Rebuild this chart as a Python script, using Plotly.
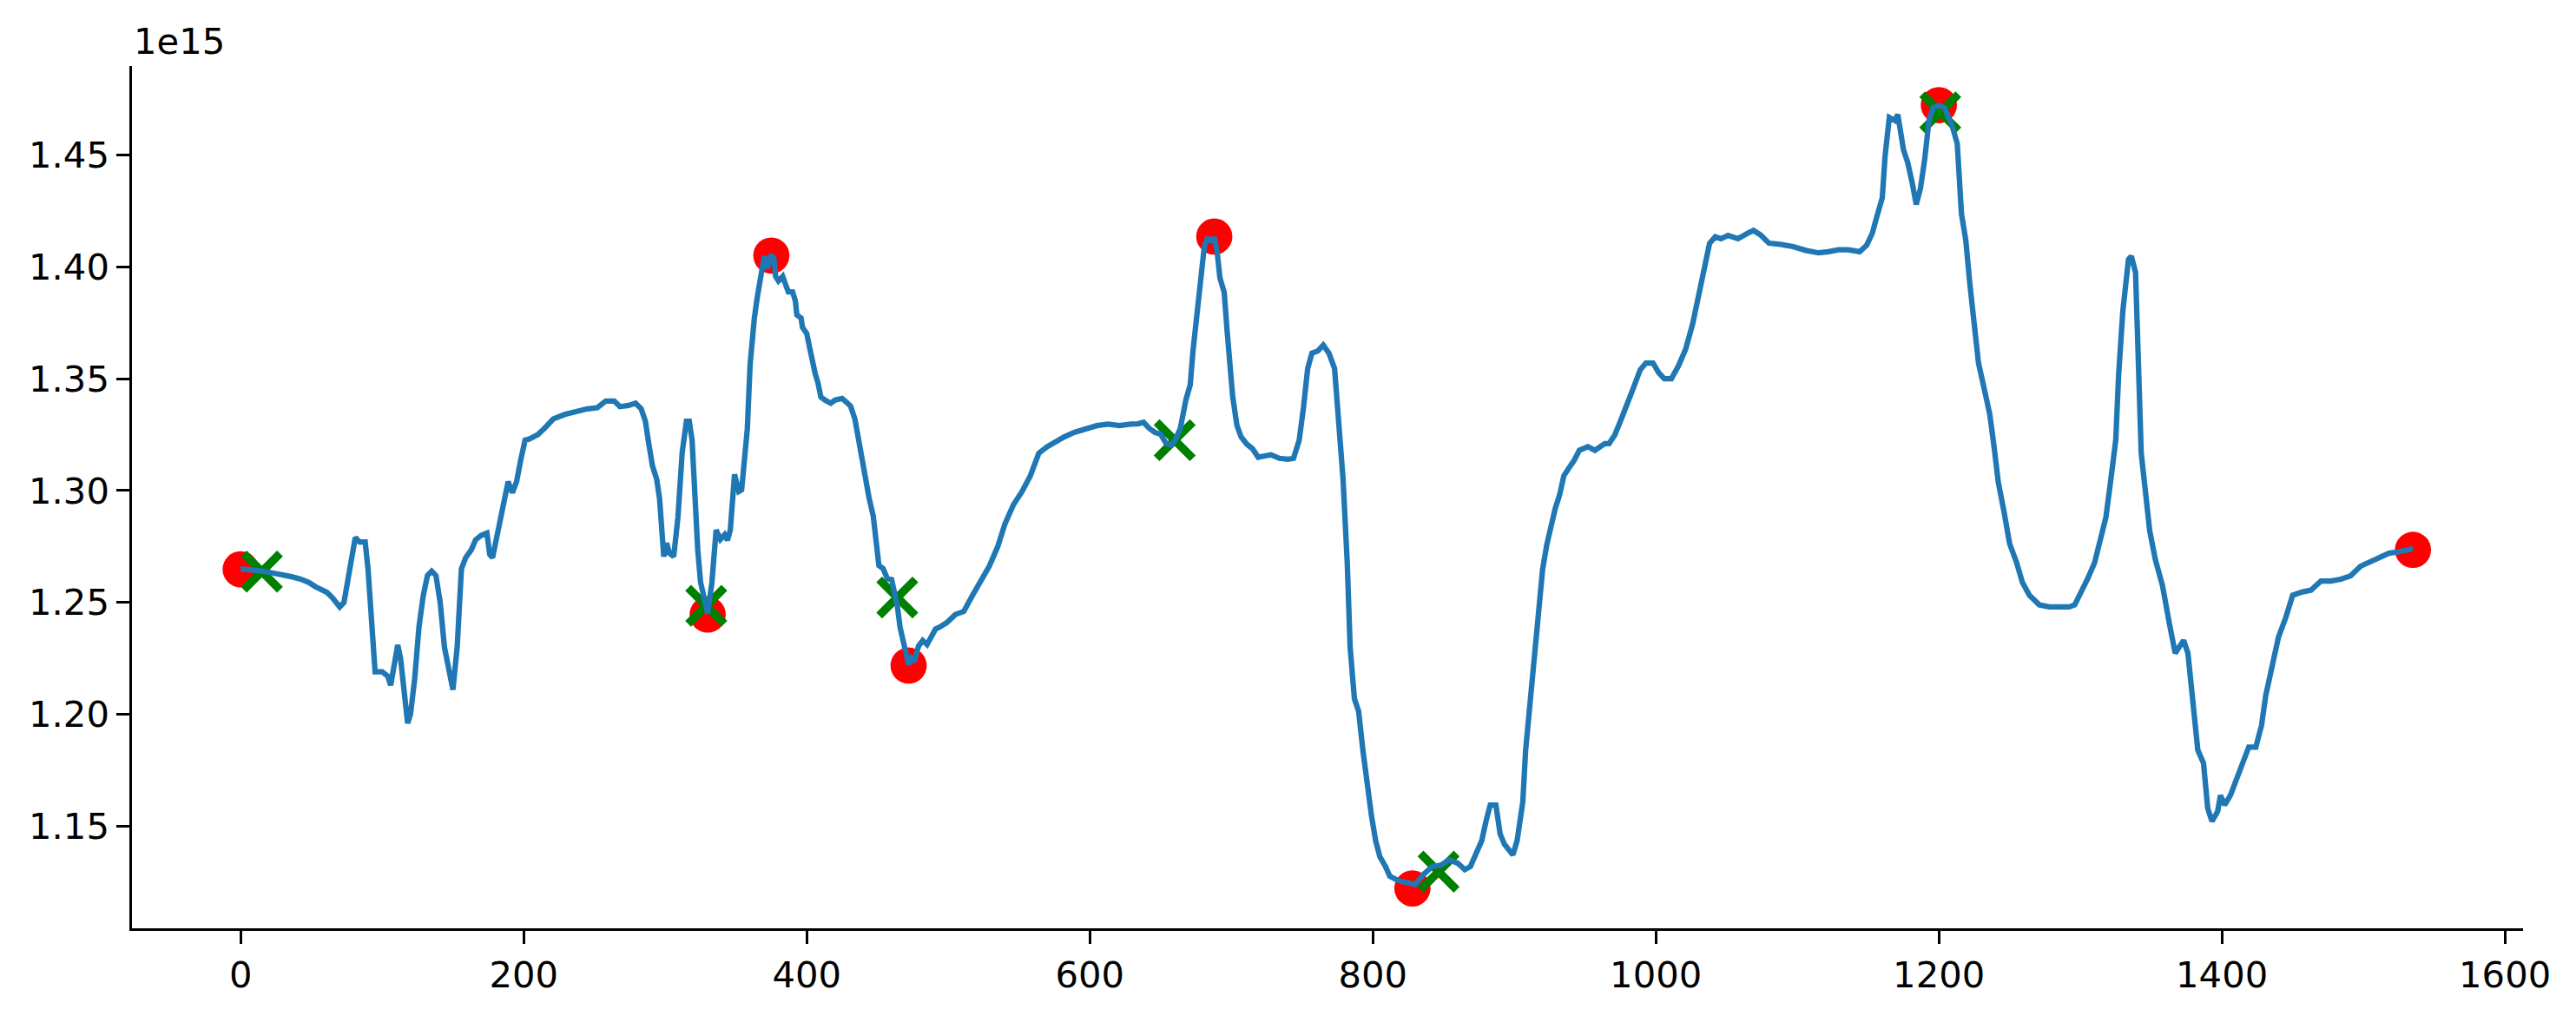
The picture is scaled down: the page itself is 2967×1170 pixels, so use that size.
import plotly.graph_objects as go

# ---- data (values in units of 1e15) ----
x_line = [0, 5, 10, 15, 20, 25, 30, 36, 42, 48, 53, 57, 61, 65, 70, 73, 76, 79, 81, 84, 88, 90, 93, 95,
          100, 104, 106, 109, 111, 113, 116, 118, 120, 123, 126, 129, 132, 135, 138, 141, 144, 147, 150,
          153, 156, 159, 163, 166, 170, 174, 176, 178, 181, 184, 187, 189, 192, 195, 198, 201, 204, 210,
          215, 221, 229, 237, 245, 252, 258, 264, 268, 274, 279, 283, 286, 288, 291, 294, 296, 299, 301,
          303, 306, 309, 312, 315, 317, 319, 321, 323, 325, 328, 330, 333, 335, 336, 339, 342, 344, 346,
          349, 352, 354, 356, 358, 360, 361, 363, 365, 367, 369, 370, 372, 374, 375, 377, 378, 380, 383,
          385, 387, 390, 392, 393, 396, 397, 400, 402, 404, 406, 408, 410, 413, 417, 420, 425, 428, 431,
          434, 436, 439, 441, 444, 447, 449, 451, 454, 457, 460, 462, 464, 466, 468, 470, 472, 474, 476,
          479, 482, 485, 488, 491, 494, 499, 505, 511, 517, 523, 529, 535, 540, 546, 552, 558, 564, 570,
          576, 582, 589, 597, 605, 613, 621, 629, 634, 638, 642, 646, 650, 654, 657, 660, 664, 668, 671,
          673, 675, 677, 679, 681, 683, 686, 688, 690, 692, 695, 697, 699, 701, 704, 707, 711, 715, 719,
          724, 728, 734, 740, 744, 748, 751, 754, 757, 761, 765, 769, 773, 776, 779, 782, 784, 787, 790,
          793, 796, 799, 802, 805, 809, 812, 818, 824, 830, 836, 842, 848, 854, 860, 865, 869, 873, 877,
          880, 883, 887, 890, 893, 897, 899, 902, 906, 908, 911, 914, 917, 920, 923, 926, 929, 932, 935,
          938, 942, 946, 952, 957, 961, 964, 967, 971, 975, 980, 984, 989, 993, 998, 1002, 1006, 1011,
          1016, 1021, 1026, 1030, 1035, 1038, 1042, 1046, 1051, 1058, 1065, 1069, 1074, 1080, 1088, 1097,
          1106, 1115, 1122, 1129, 1136, 1144, 1149, 1153, 1156, 1160, 1162, 1165, 1169, 1171, 1175, 1178,
          1181, 1184, 1187, 1190, 1193, 1196, 1200, 1204, 1209, 1213, 1216, 1219, 1222, 1225, 1228, 1232,
          1236, 1239, 1242, 1246, 1250, 1255, 1259, 1264, 1271, 1278, 1285, 1292, 1296, 1301, 1305, 1310,
          1314, 1318, 1321, 1325, 1327, 1330, 1334, 1336, 1339, 1341, 1343, 1346, 1349, 1353, 1358, 1363,
          1367, 1370, 1373, 1376, 1380, 1383, 1387, 1390, 1393, 1397, 1399, 1402, 1406, 1411, 1415, 1419,
          1424, 1428, 1431, 1436, 1440, 1445, 1450, 1457, 1463, 1470, 1477, 1484, 1491, 1498, 1505, 1512,
          1518, 1525, 1532, 1535]

y_line = [1.2650, 1.2648, 1.2645, 1.2640, 1.2635, 1.2630, 1.2625, 1.2615, 1.2605, 1.2590, 1.2570, 1.2560,
          1.2545, 1.2520, 1.2480, 1.2500, 1.2600, 1.2700, 1.2790, 1.2770, 1.2770, 1.2650, 1.2320, 1.2190,
          1.2190, 1.2170, 1.2130, 1.2250, 1.2310, 1.2250, 1.2040, 1.1960, 1.2000, 1.2160, 1.2390, 1.2530,
          1.2620, 1.2640, 1.2620, 1.2500, 1.2300, 1.2190, 1.2110, 1.2300, 1.2650, 1.2700, 1.2735, 1.2780,
          1.2800, 1.2810, 1.2715, 1.2700, 1.2800, 1.2880, 1.2990, 1.3040, 1.2990, 1.3040, 1.3140, 1.3225,
          1.3230, 1.3250, 1.3280, 1.3320, 1.3340, 1.3355, 1.3365, 1.3370, 1.3400, 1.3400, 1.3375, 1.3380,
          1.3390, 1.3365, 1.3310, 1.3225, 1.3110, 1.3050, 1.2965, 1.2705, 1.2765, 1.2720, 1.2705, 1.2880,
          1.3170, 1.3310, 1.3310, 1.3225, 1.2940, 1.2735, 1.2590, 1.2500, 1.2450, 1.2590, 1.2735, 1.2824,
          1.2782, 1.2803, 1.2778, 1.2824, 1.3072, 1.2996, 1.3003, 1.3135, 1.3273, 1.3563, 1.3646, 1.3771,
          1.3861, 1.3937, 1.4006, 1.4047, 1.3992, 1.4047, 1.4054, 1.4033, 1.3957, 1.3937, 1.3957, 1.3922,
          1.3888, 1.3888, 1.3847, 1.3785, 1.3771, 1.3729, 1.3702, 1.3640, 1.3563, 1.3522, 1.3480, 1.3418,
          1.3404, 1.3390, 1.3404, 1.3411, 1.3395, 1.3377, 1.3321, 1.3245, 1.3162, 1.3065, 1.2969, 1.2886,
          1.2775, 1.2665, 1.2651, 1.2606, 1.2602, 1.2554, 1.2485, 1.2388, 1.2326, 1.2263, 1.2222, 1.2250,
          1.2236, 1.2305, 1.2330, 1.2312, 1.2353, 1.2381, 1.2390, 1.2410, 1.2446, 1.2460, 1.2530, 1.2600,
          1.2662, 1.2750, 1.2850, 1.2936, 1.2994, 1.3066, 1.3167, 1.3196, 1.3220, 1.3240, 1.3260, 1.3277,
          1.3290, 1.3297, 1.3290, 1.3297, 1.3298, 1.3305, 1.3278, 1.3260, 1.3252, 1.3210, 1.3203, 1.3220,
          1.3278, 1.3407, 1.3472, 1.3627, 1.3756, 1.3873, 1.4015, 1.4093, 1.4125, 1.4118, 1.4131, 1.4067,
          1.3950, 1.3886, 1.3718, 1.3550, 1.3420, 1.3291, 1.3239, 1.3207, 1.3187, 1.3149, 1.3153, 1.3160,
          1.3144, 1.3140, 1.3144, 1.3225, 1.3370, 1.3545, 1.3614, 1.3623, 1.3650, 1.3614, 1.3545, 1.3310,
          1.3050, 1.2670, 1.2300, 1.2070, 1.2013, 1.1840, 1.1680, 1.1550, 1.1436, 1.1364, 1.1320, 1.1277,
          1.1257, 1.1248, 1.1240, 1.1286, 1.1320, 1.1326, 1.1350, 1.1335, 1.1306, 1.1320, 1.1380, 1.1436,
          1.1522, 1.1595, 1.1595, 1.1465, 1.1420, 1.1390, 1.1372, 1.1436, 1.1609, 1.1840, 1.2040, 1.2215,
          1.2446, 1.2648, 1.2760, 1.2850, 1.2922, 1.2980, 1.3066, 1.3095, 1.3132, 1.3180, 1.3196, 1.3180,
          1.3200, 1.3210, 1.3210, 1.3248, 1.3310, 1.3383, 1.3456, 1.3540, 1.3570, 1.3570, 1.3527, 1.3500,
          1.3500, 1.3557, 1.3630, 1.3744, 1.3860, 1.4004, 1.4105, 1.4134, 1.4125, 1.4140, 1.4125, 1.4150,
          1.4162, 1.4142, 1.4105, 1.4100, 1.4090, 1.4073, 1.4062, 1.4067, 1.4076, 1.4076, 1.4067, 1.4096,
          1.4150, 1.4220, 1.4307, 1.4494, 1.4667, 1.4653, 1.4680, 1.4523, 1.4465, 1.4380, 1.4278, 1.4350,
          1.4480, 1.4653, 1.4710, 1.4720, 1.4710, 1.4638, 1.4550, 1.4235, 1.4120, 1.3917, 1.3715, 1.3570,
          1.3456, 1.3340, 1.3196, 1.3037, 1.2907, 1.2763, 1.2677, 1.2590, 1.2532, 1.2489, 1.2480, 1.2480,
          1.2480, 1.2489, 1.2547, 1.2604, 1.2677, 1.2778, 1.2879, 1.3023, 1.3225, 1.3513, 1.3802, 1.4033,
          1.4047, 1.3975, 1.3527, 1.3167, 1.2994, 1.2820, 1.2691, 1.2576, 1.2402, 1.2273, 1.2302, 1.2330,
          1.2273, 1.2013, 1.1840, 1.1782, 1.1580, 1.1522, 1.1566, 1.1638, 1.1595, 1.1638, 1.1725, 1.1782,
          1.1854, 1.1854, 1.1950, 1.2085, 1.2244, 1.2345, 1.2430, 1.2532, 1.2547, 1.2555, 1.2596, 1.2596,
          1.2604, 1.2619, 1.2662, 1.2682, 1.2700, 1.2720, 1.2726, 1.2734, 1.2740]

peak_x = [0, 330, 375, 472, 688, 828, 1200, 1535]
peak_y = [1.2648, 1.2446, 1.4050, 1.2218, 1.4135, 1.1222, 1.4722, 1.2735]

cross_x = [15, 329, 464, 660, 846.5, 1201]
cross_y = [1.2638, 1.2485, 1.2522, 1.3225, 1.1297, 1.4690]

x_ticks = [0, 200, 400, 600, 800, 1000, 1200, 1400, 1600]
y_ticks = [1.15, 1.20, 1.25, 1.30, 1.35, 1.40, 1.45]
y_tick_text = ["1.15", "1.20", "1.25", "1.30", "1.35", "1.40", "1.45"]
offset_label = "1e15"

FONT = "DejaVu Sans"
FS = 41.7

fig = go.Figure()
fig.add_trace(go.Scatter(x=peak_x, y=peak_y, mode="markers",
                         marker=dict(color="red", size=41.7, line=dict(width=0)),
                         showlegend=False))
fig.add_trace(go.Scatter(x=cross_x, y=cross_y, mode="markers",
                         marker=dict(symbol="x-thin", color="green", size=41.7,
                                     line=dict(color="green", width=9.5)),
                         showlegend=False))
fig.add_trace(go.Scatter(x=x_line, y=y_line, mode="lines",
                         line=dict(color="#1f77b4", width=6.25),
                         showlegend=False))

axis_common = dict(showgrid=False, zeroline=False, showline=True, linecolor="black",
                   linewidth=3.3, ticks="outside", ticklen=14.6, tickwidth=3.3,
                   tickcolor="black", tickfont=dict(family=FONT, size=FS, color="black"))

# page body has an 8px default margin, so the figure is shrunk and margins shifted by 8px
fig.update_layout(
    width=2959, height=1162,
    margin=dict(l=144.3, r=61.3, t=68, b=100.7, pad=0),
    paper_bgcolor="white", plot_bgcolor="white",
    xaxis=dict(range=[-76.8, 1612.8], tickvals=x_ticks, **axis_common),
    yaxis=dict(range=[1.1044, 1.4897], tickvals=y_ticks, ticktext=y_tick_text, **axis_common),
    annotations=[dict(text=offset_label, xref="paper", yref="paper", x=0, y=1,
                      xanchor="left", yanchor="bottom", showarrow=False, yshift=2, xshift=0,
                      font=dict(family=FONT, size=FS, color="black"))],
)

fig.write_html("out.html")
